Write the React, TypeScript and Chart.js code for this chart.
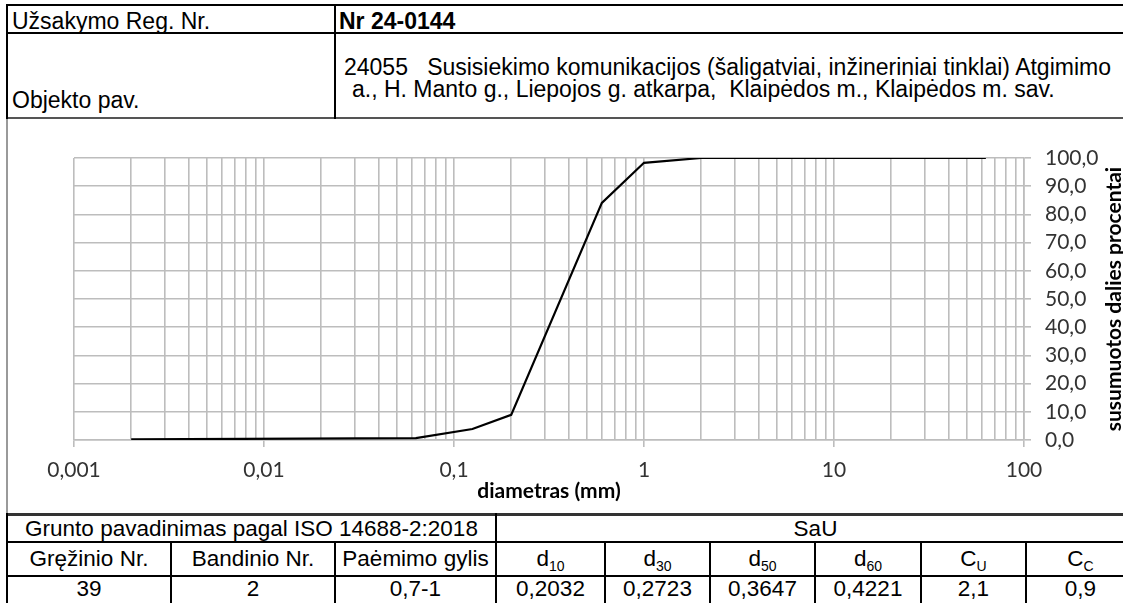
import React, { useEffect, useRef } from 'react';
import { Chart, registerables } from 'chart.js';

Chart.register(...registerables);

// ---- chart data ----
const diameters = [0.002, 0.063, 0.125, 0.2, 0.6, 1, 2, 4, 8, 16, 31.5, 63];
const passing = [0.2, 0.7, 3.9, 8.9, 84.1, 98.3, 100, 100, 100, 100, 100, 100];

const xDecades = [0.001, 0.01, 0.1, 1, 10, 100];
const xTickLabels = ['0,001', '0,01', '0,1', '1', '10', '100'];
const yTickValues = [0, 10, 20, 30, 40, 50, 60, 70, 80, 90, 100];
const yTickLabels = ['0,0', '10,0', '20,0', '30,0', '40,0', '50,0', '60,0', '70,0', '80,0', '90,0', '100,0'];

const xTitle = 'diametras (mm)';
const yTitle = 'susumuotos dalies procentai';

// ---- table texts ----
const orderLabel = 'Užsakymo Reg. Nr.';
const orderValue = 'Nr 24-0144';
const objectLabel = 'Objekto pav.';
const objectLine1 = '24055   Susisiekimo komunikacijos (šaligatviai, inžineriniai tinklai) Atgimimo';
const objectLine2 = 'a., H. Manto g., Liepojos g. atkarpa,  Klaipėdos m., Klaipėdos m. sav.';
const soilLabel = 'Grunto pavadinimas pagal ISO 14688-2:2018';
const soilValue = 'SaU';
const headerMain = ['Gręžinio Nr.', 'Bandinio Nr.', 'Paėmimo gylis'];
const headerSym = [['d', '10'], ['d', '30'], ['d', '50'], ['d', '60'], ['C', 'U'], ['C', 'C']];
const rowValues = ['39', '2', '0,7-1', '0,2032', '0,2723', '0,3647', '0,4221', '2,1', '0,9'];

const colEdges = [7, 171, 335, 496, 605, 710, 815, 921, 1026, 1135];

const GRID = '#bdbdbd';
const TABLE_FONT = '"Liberation Sans", Arial, sans-serif';
const CHART_FONT = 'Lato';

const xGridValues: number[] = [];
for (let e = -3; e <= 1; e++) {
  for (let m = 1; m <= 9; m++) xGridValues.push(Number((m * Math.pow(10, e)).toPrecision(6)));
}
xGridValues.push(100);

function decadeIndex(v: number) {
  return xDecades.findIndex((d) => Math.abs(d - v) / d < 1e-6);
}

const yTitlePlugin = {
  id: 'yTitleLeftRot',
  afterDraw(chart: any) {
    const { ctx, chartArea } = chart;
    ctx.save();
    ctx.font = `bold 21px ${CHART_FONT}`;
    ctx.fillStyle = '#000';
    ctx.textAlign = 'center';
    ctx.textBaseline = 'middle';
    ctx.translate(chart.width - 9, (chartArea.top + chartArea.bottom) / 2);
    ctx.rotate(-Math.PI / 2);
    ctx.fillText(yTitle, 0, 0);
    ctx.restore();
  },
};

function HLine({ x, y, w, h = 2, c = '#000' }: any) {
  return <div style={{ position: 'absolute', left: x, top: y, width: w, height: h, background: c }} />;
}
function VLine({ x, y, h, w = 2, c = '#000' }: any) {
  return <div style={{ position: 'absolute', left: x, top: y, width: w, height: h, background: c }} />;
}
function T({ x, base, text, bold, w, size = 22 }: any) {
  const style: any = {
    position: 'absolute',
    left: x,
    top: base - (size / 2 + 0.3465 * size),
    fontSize: size,
    lineHeight: size + 'px',
    fontFamily: TABLE_FONT,
    fontWeight: bold ? 'bold' : 'normal',
    whiteSpace: 'pre',
    color: '#000',
  };
  if (w !== undefined) {
    style.width = w;
    style.textAlign = 'center';
  }
  return <div style={style}>{text}</div>;
}

function ChartCanvas() {
  const ref = useRef<HTMLCanvasElement | null>(null);
  useEffect(() => {
    if (!ref.current) return;
    const chart = new Chart(ref.current, {
      type: 'line',
      data: {
        datasets: [
          {
            data: diameters.map((d, i) => ({ x: d, y: passing[i] })),
            borderColor: '#000',
            borderWidth: 2.2,
            pointRadius: 0,
            tension: 0,
            fill: false,
          },
        ],
      },
      options: {
        responsive: false,
        animation: false,
        layout: { padding: { left: 66, top: 38, right: 0, bottom: 0 } },
        plugins: { legend: { display: false }, tooltip: { enabled: false } },
        scales: {
          x: {
            type: 'logarithmic',
            min: 0.001,
            max: 100,
            afterBuildTicks: (s: any) => {
              s.ticks = xGridValues.map((v) => ({ value: v, major: decadeIndex(v) >= 0 }));
            },
            afterFit: (s: any) => {
              s.height = 73;
            },
            grid: {
              color: GRID,
              lineWidth: 1.6,
              tickLength: 7,
              tickWidth: 1.6,
              tickColor: (c: any) => (c.tick && decadeIndex(c.tick.value) >= 0 ? GRID : 'rgba(0,0,0,0)'),
            },
            border: { color: GRID, width: 1.6 },
            ticks: {
              autoSkip: false,
              maxRotation: 0,
              minRotation: 0,
              padding: 11,
              color: '#333',
              font: { family: CHART_FONT, size: 21 },
              callback: (v: any) => {
                const i = decadeIndex(Number(v));
                return i >= 0 ? xTickLabels[i] : '';
              },
            },
            title: {
              display: true,
              text: xTitle,
              color: '#000',
              font: { family: CHART_FONT, size: 21, weight: 'bold' },
              padding: { top: 0, bottom: 9 },
            },
          },
          y: {
            type: 'linear',
            position: 'right',
            min: 0,
            max: 100,
            afterFit: (s: any) => {
              s.width = 99;
            },
            grid: { color: GRID, lineWidth: 1.6, tickLength: 7, tickWidth: 1.6 },
            border: { color: GRID, width: 1.6 },
            ticks: {
              stepSize: 10,
              padding: 14,
              color: '#333',
              font: { family: CHART_FONT, size: 21 },
              callback: (v: any) => {
                const i = yTickValues.indexOf(Number(v));
                return i >= 0 ? yTickLabels[i] : '';
              },
            },
          },
        },
      },
      plugins: [yTitlePlugin],
    } as any);
    const fonts: any = (document as any).fonts;
    if (fonts && fonts.load) {
      Promise.all([fonts.load(`21px ${CHART_FONT}`), fonts.load(`bold 21px ${CHART_FONT}`)])
        .then(() => chart.update())
        .catch(() => {});
    }
    return () => chart.destroy();
  }, []);
  return (
    <canvas
      ref={ref}
      width={1115}
      height={393}
      style={{ position: 'absolute', left: 8, top: 120, width: 1115, height: 393 }}
    />
  );
}

export default function App() {
  useEffect(() => {
    document.body.style.margin = '0';
  }, []);
  const bottomTop = 513;
  return (
    <div
      style={{
        position: 'absolute',
        left: 0,
        top: 0,
        width: 1123,
        height: 603,
        overflow: 'hidden',
        background: '#fff',
      }}
    >
      {/* top table */}
      <HLine x={6} y={4} w={1130} />
      <HLine x={6} y={32} w={1130} />
      <HLine x={6} y={117} w={1130} c="#555" />
      <VLine x={6} y={4} h={115} />
      <VLine x={334} y={4} h={115} />
      <VLine x={6} y={119} h={396} c="#9a9a9a" />
      <T x={12} base={29} text={orderLabel} size={23} />
      <T x={339} base={29} text={orderValue} bold size={23} />
      <T x={344} base={75} text={objectLine1} size={23} />
      <T x={352} base={97} text={objectLine2} size={23} />
      <T x={12} base={108} text={objectLabel} size={23} />

      <ChartCanvas />

      {/* bottom table */}
      <HLine x={6} y={bottomTop} w={1130} h={3} c="#333" />
      <HLine x={6} y={541} w={1130} />
      <HLine x={6} y={575} w={1130} />
      <VLine x={6} y={bottomTop} h={90} />
      <VLine x={495} y={bottomTop} h={90} />
      {colEdges.slice(1, -1).map((x, i) =>
        x === 496 ? null : <VLine key={i} x={x - 1} y={541} h={62} />
      )}
      <T x={colEdges[0]} w={colEdges[3] - colEdges[0]} base={537} text={soilLabel} size={22.5} />
      <T x={colEdges[3]} w={colEdges[9] - colEdges[3]} base={537} text={soilValue} size={22.5} />
      {headerMain.map((h, i) => (
        <T key={'h' + i} x={colEdges[i]} w={colEdges[i + 1] - colEdges[i]} base={567} text={h} size={22.5} />
      ))}
      {headerSym.map((s, i) => (
        <T
          key={'s' + i}
          x={colEdges[i + 3]}
          w={colEdges[i + 4] - colEdges[i + 3]}
          base={567}
          size={22.5}
          text={
            <span>
              {s[0]}
              <span style={{ fontSize: 14, position: 'relative', top: 5 }}>{s[1]}</span>
            </span>
          }
        />
      ))}
      {rowValues.map((v, i) => (
        <T key={'v' + i} x={colEdges[i]} w={colEdges[i + 1] - colEdges[i]} base={597} text={v} size={22.5} />
      ))}
    </div>
  );
}
